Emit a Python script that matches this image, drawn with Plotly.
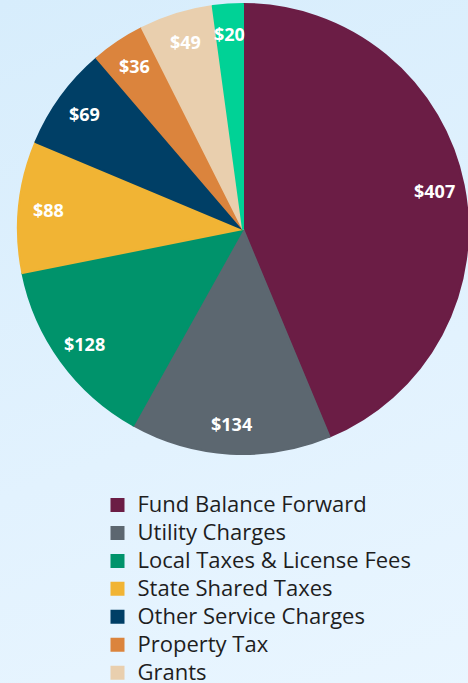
import math
import plotly.graph_objects as go

labels = ["Fund Balance Forward", "Utility Charges", "Local Taxes & License Fees",
          "State Shared Taxes", "Other Service Charges", "Property Tax", "Grants",
          "Miscellaneous"]
values = [407, 134, 128, 88, 69, 36, 49, 20]
colors = ["#6B1D45", "#5C6770", "#00936B", "#F1B434", "#003F66", "#DB843D",
          "#E9CFAE", "#00D296"]
text_labels = ["$" + str(v) for v in values]

W, H = 468, 740          # figure is taller than the 683px window; the last legend row falls below it
cx, cy, r = 243, 229, 225
label_frac = 0.87

fig = go.Figure(go.Pie(
    labels=["<span style='font-size:22px'>" + l + "</span>" for l in labels],
    values=values,
    textinfo="none",
    hoverinfo="label+value",
    marker=dict(colors=colors, line=dict(width=2, color=colors)),
    sort=False,
    direction="clockwise",
    rotation=0,
    domain=dict(x=[(cx - r) / W, min(1, (cx + r) / W)],
                y=[1 - (cy + r) / H, 1 - (cy - r) / H]),
))

# value labels placed along each slice's mid-angle, derived from the data
total = sum(values)
cum = 0
annotations = []
for v, t in zip(values, text_labels):
    theta = (cum + v / 2) / total * 2 * math.pi
    cum += v
    d = label_frac * r
    px = cx + d * math.sin(theta)
    py = cy - d * math.cos(theta)
    annotations.append(dict(
        x=px / W, y=1 - py / H, xref="paper", yref="paper",
        text=t, showarrow=False, xanchor="center", yanchor="middle",
        font=dict(family="Open Sans", size=18, color="white", weight="bold"),
    ))

fig.update_layout(
    width=W, height=H,
    margin=dict(l=0, r=0, t=0, b=0, autoexpand=False),
    paper_bgcolor="rgba(0,0,0,0)",
    plot_bgcolor="rgba(0,0,0,0)",
    font=dict(family="Open Sans", color="#1E1E1E"),
    showlegend=True,
    annotations=annotations,
    legend=dict(
        x=97.5 / W, y=1 - 486 / H, xanchor="left", yanchor="top",
        font=dict(family="Open Sans", size=19.2, color="#1E1E1E"),
        bgcolor="rgba(0,0,0,0)",
        borderwidth=0,
        tracegroupgap=0,
    ),
)

post = """
document.documentElement.style.margin='0';
document.documentElement.style.overflow='hidden';
document.body.style.margin='0';
document.body.style.overflow='hidden';
document.body.style.background='linear-gradient(160deg, #D7EDFC 0%, #E2F2FE 55%, #EAF6FF 100%)';
document.documentElement.style.background='linear-gradient(160deg, #D7EDFC 0%, #E2F2FE 55%, #EAF6FF 100%)';
"""

fig.write_html("out.html", post_script=post, config={"displayModeBar": False})
